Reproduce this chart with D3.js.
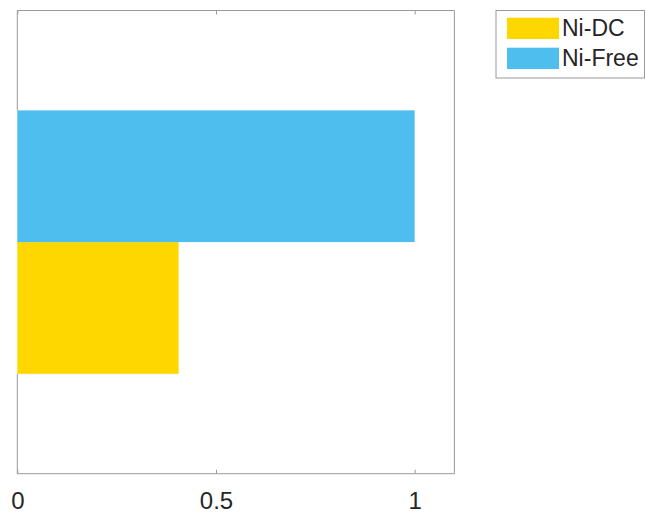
<!DOCTYPE html>
<html>
<head>
<meta charset="utf-8">
<script src="https://cdn.jsdelivr.net/npm/d3@7"></script>
<style>
  html, body { margin: 0; padding: 0; background: #fff; }
  svg { display: block; font-family: "Liberation Sans", Arial, sans-serif; }
</style>
</head>
<body>
<svg id="chart" width="646" height="516"></svg>
<script>
const categories = ["Group"];
const seriesNames = ["Ni-DC", "Ni-Free"];
const niDC = [0.406];
const niFree = [1.0];
const xTicks = [0, 0.5, 1];
const xTickLabels = ["0", "0.5", "1"];
const colors = ["#FFD700", "#4DBEEE"];

(function () {
const svg = d3.select("#chart");
const mLeft = 17.3, mRight = 454.4, mTop = 10.5, mBottom = 473.7;
const axisColor = "#9a9a9a";

const x = d3.scaleLinear().domain([0, 1.1]).range([mLeft, mRight]);
const yCat = d3.scaleBand().domain(categories).range([mTop, mBottom]).paddingInner(0).paddingOuter(0.379);
const ySer = d3.scaleBand().domain(["Ni-Free", "Ni-DC"]).range([0, yCat.bandwidth()]);

const seriesData = [
  { name: seriesNames[0], values: niDC, color: colors[0] },
  { name: seriesNames[1], values: niFree, color: colors[1] }
];

const g = svg.append("g");
seriesData.forEach(s => {
  g.selectAll(null).data(s.values).enter().append("rect")
    .attr("x", x(0))
    .attr("y", (d, i) => yCat(categories[i]) + ySer(s.name))
    .attr("width", d => x(d) - x(0))
    .attr("height", ySer.bandwidth())
    .attr("fill", s.color);
});

const box = svg.append("g").attr("fill", "none").attr("stroke", axisColor).attr("stroke-width", 1);
box.append("line").attr("x1", mLeft).attr("x2", mRight).attr("y1", mBottom).attr("y2", mBottom);
box.append("line").attr("x1", mLeft).attr("x2", mRight).attr("y1", mTop).attr("y2", mTop);
box.append("line").attr("x1", mRight).attr("x2", mRight).attr("y1", mTop).attr("y2", mBottom);
const barTop = yCat(categories[0]), barBot = barTop + yCat.bandwidth();
box.append("line").attr("x1", mLeft).attr("x2", mLeft).attr("y1", mTop).attr("y2", barTop);
box.append("line").attr("x1", mLeft).attr("x2", mLeft).attr("y1", barBot).attr("y2", mBottom);

const xAxis = d3.axisBottom(x).tickValues(xTicks).tickFormat((d, i) => xTickLabels[i])
  .tickSizeInner(-4).tickSizeOuter(0).tickPadding(18);
const ax = svg.append("g").attr("transform", `translate(0,${mBottom})`).call(xAxis);
ax.select(".domain").remove();
ax.selectAll(".tick line").attr("stroke", axisColor);
ax.selectAll(".tick text").attr("fill", "#262626").attr("font-size", 24)
  .attr("font-family", "Liberation Sans, Arial, sans-serif");

const axTop = d3.axisTop(x).tickValues(xTicks).tickFormat("").tickSizeInner(-4).tickSizeOuter(0);
const at = svg.append("g").attr("transform", `translate(0,${mTop})`).call(axTop);
at.select(".domain").remove();
at.selectAll(".tick line").attr("stroke", axisColor);

const leg = svg.append("g");
leg.append("rect").attr("x", 496).attr("y", 10.5).attr("width", 148.5).attr("height", 67.5)
  .attr("fill", "#fff").attr("stroke", axisColor).attr("stroke-width", 1);
seriesData.forEach((s, i) => {
  const yy = 17.7 + i * 30;
  leg.append("rect").attr("x", 507).attr("y", yy).attr("width", 52).attr("height", 21.3).attr("fill", s.color);
  leg.append("text").attr("x", 562).attr("y", yy + 10.7).attr("dy", "0.35em")
    .attr("font-size", 23).attr("fill", "#262626").text(s.name);
});
})();
</script>
</body>
</html>
